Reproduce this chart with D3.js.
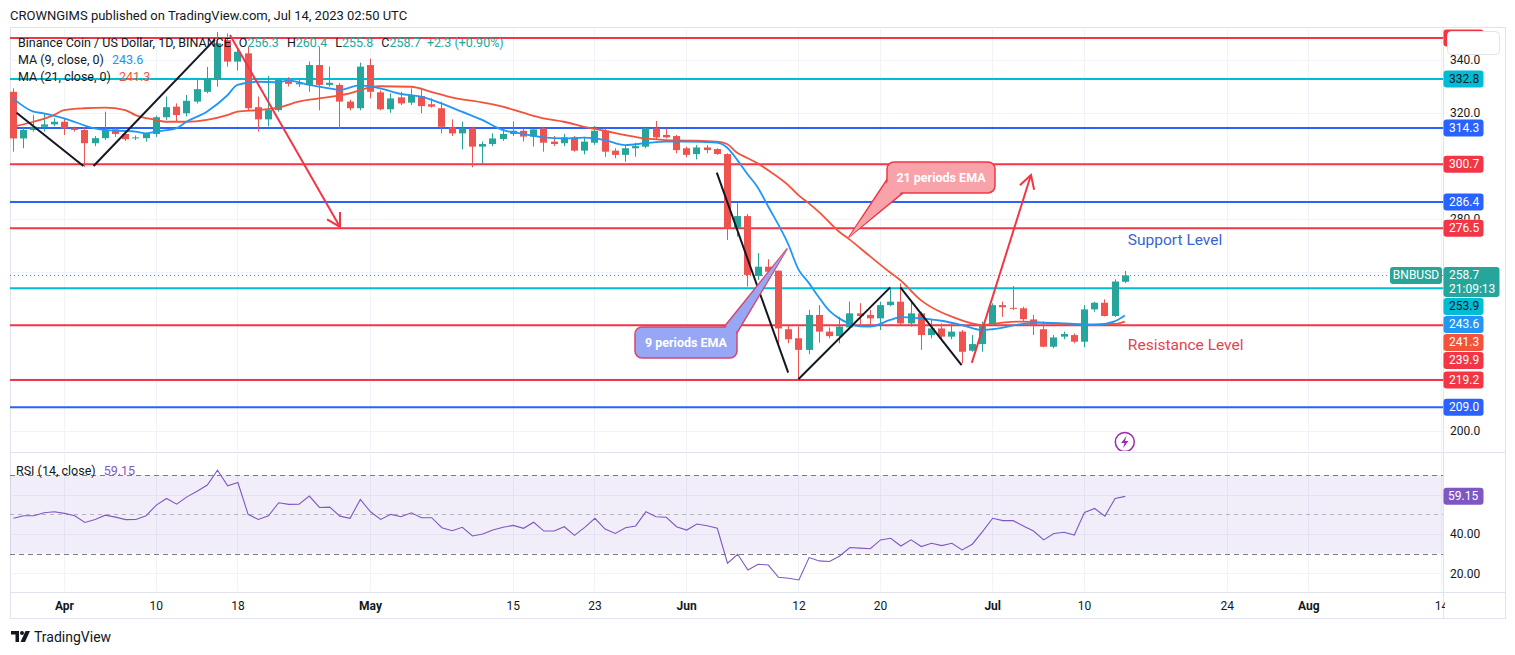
<!DOCTYPE html>
<html><head><meta charset="utf-8">
<script src="https://cdn.jsdelivr.net/npm/d3@7"></script>
<style>
html,body{margin:0;padding:0;background:#fff;}
svg{display:block;font-family:Roboto,"Liberation Sans",Arial,sans-serif;}
</style></head><body>
<svg id="c" width="1515" height="655"></svg>
<script>
// ---------------- DATA ----------------
const startDate = "2023-03-27"; // first daily candle
const opens = [328.0,310.4,313.6,314.8,315.7,316.7,314.2,313.6,308.6,310.5,313.8,312.1,310.5,310.5,312.1,318.4,322.4,319.9,324.3,328.0,
332.5,347.5,339.4,342.5,322.2,317.6,321.1,332.0,330.8,330.6,338.1,330.6,330.6,324.3,321.8,338.1,327.8,321.4,325.9,323.9,
326.4,323.3,321.8,314.6,312.3,314.2,307.3,308.3,310.2,312.1,313.3,311.1,314.2,309.2,308.6,310.8,305.8,308.8,313.3,305.8,
304.2,306.7,307.3,314.2,311.7,311.3,306.7,304.5,307.0,306.4,304.5,276.5,281.1,258.5,262.0,260.5,238.4,235.0,230.6,243.8,
237.5,235.8,239.1,244.4,243.8,242.5,247.5,248.8,240.6,244.4,236.2,238.7,235.6,237.5,230.3,232.8,240.0,247.5,246.5,246.3,
242.1,238.4,231.8,235.6,236.2,233.7,245.9,248.4,243.4,256.3];
const highs = [329.3,314.8,319.2,319.9,318.0,318.0,314.8,314.8,311.3,320.5,314.8,312.5,311.5,312.6,319.0,326.2,323.6,326.8,332.7,337.4,
350.5,350.0,344.0,345.0,326.2,334.0,333.0,333.5,333.1,339.4,345.0,337.5,331.3,325.0,339.0,340.5,328.5,327.4,328.0,329.3,
329.3,325.5,324.3,317.6,316.7,314.8,309.2,312.3,314.2,316.7,314.2,314.2,314.8,311.3,312.1,311.3,311.0,315.1,314.2,306.7,
307.9,308.8,314.8,317.0,314.2,311.7,307.3,307.9,307.9,306.7,304.8,285.9,281.9,267.1,264.8,260.5,239.6,239.4,245.7,247.5,
239.1,243.1,248.8,248.2,245.7,248.8,253.8,255.7,248.8,245.0,241.9,240.6,240.6,238.1,236.2,241.3,248.2,248.8,254.7,246.9,
243.8,241.3,236.2,237.5,236.8,247.5,248.8,249.7,257.2,260.4];
const lows = [305.4,306.7,313.0,313.0,315.0,311.7,313.0,299.7,307.5,309.8,311.0,309.5,309.8,309.2,311.0,317.4,316.7,318.7,323.6,327.4,
329.9,337.5,336.0,321.0,313.0,315.0,320.5,330.0,329.8,328.0,321.0,330.0,314.0,321.0,321.0,325.5,321.0,320.1,323.0,323.0,
319.9,322.0,312.3,311.3,306.3,299.5,300.8,307.5,309.5,311.3,309.2,307.3,305.4,307.5,307.5,305.4,304.4,308.0,303.5,302.9,
301.6,303.5,306.7,309.8,310.4,304.8,303.3,302.5,304.8,304.2,272.1,273.3,254.5,257.0,258.2,231.8,233.1,219.2,229.0,233.3,
235.0,233.1,238.4,239.4,239.4,238.1,247.0,240.0,239.4,230.6,235.0,234.3,234.6,225.5,229.9,229.9,239.6,243.1,245.6,241.3,
236.2,231.6,231.2,234.6,233.1,231.6,245.0,243.2,243.0,255.8];
const closes = [310.4,313.6,314.8,315.7,316.7,314.2,313.6,308.6,310.5,313.6,312.1,310.1,310.8,312.1,318.4,322.2,319.2,324.6,329.0,333.1,
346.3,339.4,343.1,321.8,317.6,321.1,332.5,331.0,331.3,338.1,330.6,331.4,324.3,321.8,337.5,328.0,321.4,325.5,323.6,326.8,
322.6,322.4,314.8,312.3,314.2,307.3,308.3,310.4,312.1,313.3,311.1,313.8,308.8,308.3,310.8,305.8,309.2,313.3,305.4,304.2,
306.7,307.5,314.2,310.8,310.8,306.0,304.2,307.0,306.0,304.5,276.5,281.1,258.9,262.0,260.1,238.7,234.6,230.6,243.8,237.5,
235.8,239.4,244.4,243.4,242.5,247.5,248.8,240.6,244.4,236.2,238.7,235.6,237.5,229.9,232.8,240.0,247.5,246.7,246.2,242.2,
240.0,231.8,235.3,236.6,233.7,245.9,248.4,243.4,256.4,258.7];
const rsiValues = [48.0,49.3,49.3,50.8,51.3,50.5,49.3,45.9,47.4,49.6,48.6,47.3,47.4,49.3,54.7,58.1,55.2,58.9,61.8,64.9,
72.5,64.5,66.2,50.0,47.4,49.3,55.9,55.1,55.2,59.3,53.5,53.7,49.1,48.0,57.6,51.3,47.4,50.0,48.8,50.8,
48.3,48.3,43.2,41.7,43.4,39.0,40.0,42.0,43.4,44.4,42.9,46.0,41.5,41.5,43.7,39.3,43.4,48.0,42.5,40.3,
43.2,44.1,51.3,48.8,48.5,43.7,42.0,45.1,44.2,42.9,25.1,29.7,21.7,24.6,24.2,18.0,17.5,16.6,28.0,26.3,
26.0,28.8,33.1,32.8,32.5,37.0,37.8,33.9,37.0,33.6,35.3,34.1,35.3,31.9,34.8,41.2,48.0,46.8,46.8,44.1,
41.5,37.0,40.3,40.9,39.5,51.0,53.0,49.1,58.1,59.15];
// Moving averages: [days after 2023-04-01, value]
const ma9Points = [[-5,325.5],[-3,320.5],[-2,319.9],[0,318],[3,314.2],[4,313.6],[7,313],[8,312.3],[9,313],[11,314.2],[12,316.7],[14,320.5],[16,326.6],[17,330.6],[19,331.8],[21,331.6],[22,332.3],[24,330.6],[26,329.3],[27,328.7],[29,330.4],[31,329.3],[33,327.2],[35,326.2],[37,323.6],[39,320.5],[41,317.4],[43,313.6],[45,312.1],[47,310.8],[49,310.4],[51,310.7],[53,309.8],[55,307.9],[57,308.6],[59,309.2],[61,309.2],[64,308.8],[65,307],[66,302.3],[67,297],[68,292],[69,285],[71,270.5],[72,261],[73,256],[74,250.5],[75,245.5],[76,242.5],[77,240.5],[78,239.5],[79,239.4],[81,241.9],[82,243],[84,242.5],[86,241.6],[88,240],[90,238.1],[91,238.4],[94,240.4],[96,240.9],[99,240.4],[101,240],[103,241.4],[104,243.6]];
const ma21Points = [[-5,314.8],[-3,316.7],[-1,319.2],[0,321.1],[2,321.8],[4,322],[6,321.1],[7,319.2],[9,317.4],[10,316.7],[12,316.7],[14,317.4],[16,319.2],[17,320.5],[19,321.1],[21,322],[23,324.3],[25,325.5],[28,327.4],[30,329.7],[31,330.1],[34,329.9],[36,328],[38,325.9],[41,324],[43,322.4],[45,320.1],[47,318],[49,316.7],[51,314.8],[53,313.3],[55,311.7],[57,310.4],[59,309.8],[61,309.6],[64,309.2],[65,308.3],[66,305],[67,303],[68,301],[69,298.5],[71,292.8],[72,289],[73,286],[74,282.7],[76,275.2],[77,272.3],[79,266],[81,259.8],[82,256.9],[84,249.4],[86,244.8],[87,243.2],[89,240.6],[90,240],[92,240.9],[94,241.3],[97,240.6],[100,240.2],[103,240.4],[104,241.3]];
const levelValues = [348.3,332.8,314.3,300.7,286.4,276.5,253.9,239.9,219.2,209.0];
const levelKinds  = ["red","cyan","blue","red","blue","red","cyan","red","red","blue"];
const priceTicks = [200,220,240,260,280,300,320,340];
const rsiTicks = [20,40,60];
const timeTickDates = ["2023-04-01","2023-04-10","2023-04-18","2023-05-01","2023-05-15","2023-05-23","2023-06-01","2023-06-12","2023-06-20","2023-07-01","2023-07-10","2023-07-24","2023-08-01","2023-08-14"];
const timeTickLabels = ["Apr","10","18","May","15","23","Jun","12","20","Jul","10","24","Aug","14"];
const lastPrice = 258.7, lastRsi = 59.15, countdown = "21:09:13";
// drawings in [days after 2023-04-01, price]
const blackLines = [[[-4.65,320.1],[1.9,300.0]],[[2.9,300.0],[14.8,347.8]],[[64,297.5],[71,222.0]],[[72,219.5],[81,254.2]],[[82,254.2],[88,224.9]]];
const redArrows = [[[16.27,349.4],[27.06,277.0]],[[89.0,225.7],[94.8,296.6]]];
const callouts = [
  {text:"21 periods EMA", center:[85.98,295.7], tip:[76.96,273.2], kind:"red"},
  {text:"9 periods EMA",  center:[60.98,233.4], tip:[70.88,268.7], kind:"blue"}
];
const textNotes = [{text:"Support Level", at:[104.3,272.1], kind:"blue"},{text:"Resistance Level", at:[104.3,232.5], kind:"red"}];

// ---------------- SETUP ----------------
const svg = d3.select("#c");
const base = Date.UTC(2023,3,1);
const day = n => new Date(base + n*864e5);
const dates = d3.range(opens.length).map(i => d3.utcDay.offset(new Date(startDate+"T00:00:00Z"), i));
const PX_DAY = 10.2;
const x = d3.scaleUtc().domain([day(0), day(122)]).range([64, 64 + 122*PX_DAY]);
const y = d3.scaleLinear().domain([200,340]).range([431,60]);
const yr = d3.scaleLinear().domain([20,40]).range([573.3,534]);

const C = {up:"#26a69a", down:"#ef5350", red:"#f23645", blue:"#2962ff", cyan:"#00bcd4",
  ma9:"#2196f3", ma21:"#f2533a", grid:"#f0f3fa", border:"#e0e3eb", text:"#131722", rsi:"#7e57c2"};
const kindColor = {red:C.red, blue:C.blue, cyan:C.cyan};

const L = 10, R = 1443, RR = 1505, PT = 29, PB = 451, RT = 453, RB = 591, AB = 618;

const defs = svg.append("defs");
defs.append("clipPath").attr("id","pp").append("rect").attr("x",L).attr("y",PT).attr("width",R-L).attr("height",PB-PT);
defs.append("clipPath").attr("id","rp").append("rect").attr("x",L).attr("y",RT).attr("width",R-L).attr("height",RB-RT);
defs.append("clipPath").attr("id","tp").append("rect").attr("x",L).attr("y",AB-30).attr("width",R-L+2).attr("height",30);

// header
svg.append("text").attr("x",10).attr("y",19.5).attr("font-size",13).attr("fill",C.text)
  .text("CROWNGIMS published on TradingView.com, Jul 14, 2023 02:50 UTC");

// frame
svg.append("rect").attr("x",L+0.5).attr("y",27.5).attr("width",RR-L).attr("height",AB-27).attr("fill","none").attr("stroke",C.border);
svg.append("line").attr("x1",L).attr("x2",RR).attr("y1",452.5).attr("y2",452.5).attr("stroke",C.border);
svg.append("line").attr("x1",L).attr("x2",RR).attr("y1",592.5).attr("y2",592.5).attr("stroke",C.border);
svg.append("line").attr("x1",R+0.5).attr("x2",R+0.5).attr("y1",27).attr("y2",AB).attr("stroke",C.border);

// ---------------- PRICE PANE ----------------
const pp = svg.append("g").attr("clip-path","url(#pp)");
const tickD = timeTickDates.map(s => new Date(s+"T00:00:00Z"));
pp.selectAll(".vg").data(tickD).join("line").attr("x1",d=>Math.round(x(d))+0.5).attr("x2",d=>Math.round(x(d))+0.5)
  .attr("y1",PT).attr("y2",PB).attr("stroke",C.grid);
pp.selectAll(".hg").data(priceTicks).join("line").attr("x1",L).attr("x2",R).attr("y1",d=>Math.round(y(d))+0.5).attr("y2",d=>Math.round(y(d))+0.5).attr("stroke",C.grid);

// level lines
pp.selectAll(".lvl").data(levelValues).join("line").attr("x1",L).attr("x2",R)
  .attr("y1",d=>y(d)).attr("y2",d=>y(d)).attr("stroke",(d,i)=>kindColor[levelKinds[i]]).attr("stroke-width",2);

// last price dotted line
pp.append("line").attr("x1",L).attr("x2",R).attr("y1",y(lastPrice)).attr("y2",y(lastPrice))
  .attr("stroke",C.up).attr("stroke-dasharray","1,3");

// candles
const cg = pp.append("g");
dates.forEach((dt,i)=>{
  const o=opens[i], c=closes[i], col = c>=o?C.up:C.down, cx=Math.round(x(dt));
  cg.append("line").attr("x1",cx+0.5).attr("x2",cx+0.5).attr("y1",y(highs[i])).attr("y2",y(lows[i])).attr("stroke",col);
  const top=y(Math.max(o,c)), h=Math.max(1,Math.abs(y(o)-y(c)));
  cg.append("rect").attr("x",cx-3).attr("width",7).attr("y",top).attr("height",h).attr("fill",col);
});

// MA lines
const maLine = d3.line().x(d=>x(day(d[0]))).y(d=>y(d[1])).curve(d3.curveMonotoneX);
pp.append("path").attr("d",maLine(ma21Points)).attr("fill","none").attr("stroke",C.ma21).attr("stroke-width",1.8);
pp.append("path").attr("d",maLine(ma9Points)).attr("fill","none").attr("stroke",C.ma9).attr("stroke-width",1.8);

// drawings
const P = p => [x(day(p[0])), y(p[1])];
blackLines.forEach(s=>{
  const a=P(s[0]), b=P(s[1]);
  pp.append("line").attr("x1",a[0]).attr("y1",a[1]).attr("x2",b[0]).attr("y2",b[1]).attr("stroke","#131722").attr("stroke-width",2);
});
redArrows.forEach(s=>{
  const a=P(s[0]), b=P(s[1]);
  pp.append("line").attr("x1",a[0]).attr("y1",a[1]).attr("x2",b[0]).attr("y2",b[1]).attr("stroke",C.red).attr("stroke-width",2);
  const ang=Math.atan2(a[1]-b[1],a[0]-b[0]), len=15, sp=0.52;
  const w1=[b[0]+len*Math.cos(ang+sp), b[1]+len*Math.sin(ang+sp)], w2=[b[0]+len*Math.cos(ang-sp), b[1]+len*Math.sin(ang-sp)];
  pp.append("path").attr("d",`M${w1}L${b}L${w2}`).attr("fill","none").attr("stroke",C.red).attr("stroke-width",2).attr("stroke-linejoin","miter");
});

// callouts
const calloutStyle = {red:{fill:"#f8a3aa",stroke:"#f23645"}, blue:{fill:"#97a6f5",stroke:"#d9456a"}};
callouts.forEach(co=>{
  const st=calloutStyle[co.kind], c=P(co.center), t=P(co.tip), w=co.kind==="red"?108:102, h=31;
  let b1,b2;
  if (co.kind==="red"){ b1=[c[0]-w/2, c[1]+2]; b2=[c[0]-w/2+16, c[1]+h/2]; }
  else { b1=[c[0]+w/2-13, c[1]-h/2]; b2=[c[0]+w/2, c[1]-h/2+6]; }
  const g=pp.append("g");
  g.append("path").attr("d",`M${b1}L${t}L${b2}Z`).attr("fill",st.fill).attr("stroke",st.stroke).attr("stroke-width",1.5).attr("stroke-linejoin","round");
  g.append("rect").attr("x",c[0]-w/2).attr("y",c[1]-h/2).attr("width",w).attr("height",h).attr("rx",7)
    .attr("fill",st.fill).attr("stroke",st.stroke).attr("stroke-width",1.5);
  const inset = co.kind==="red" ? [[b1[0]+1.5,b1[1]+1],[b2[0]-1,b2[1]-1.5],[c[0]-w/2+10,c[1]+4]] : [[b1[0]+1,b1[1]+1.5],[b2[0]-1.5,b2[1]],[c[0]+w/2-6,c[1]-h/2+8]];
  g.append("path").attr("d",`M${inset[0]}L${t}L${inset[1]}L${inset[2]}Z`).attr("fill",st.fill);
  g.append("text").attr("x",c[0]).attr("y",c[1]+4.5).attr("text-anchor","middle").attr("font-size",12.5).attr("font-weight",700)
    .attr("fill","#fff").text(co.text);
});

// text notes
textNotes.forEach(n=>{
  const p=P(n.at);
  pp.append("text").attr("x",p[0]).attr("y",p[1]+5.5).attr("font-size",15.5).attr("fill",n.kind==="blue"?"#3b63d6":"#e3434f").text(n.text);
});

// lightning marker
(()=>{
  const cx = x(dates[dates.length-1]), cy = 442;
  const g = pp.append("g").attr("transform",`translate(${cx},${cy})`);
  g.append("circle").attr("r",9.5).attr("fill","#fff").attr("stroke","#9c27b0").attr("stroke-width",1.5);
  g.append("path").attr("d","M1.8,-6.2L-3.6,1L-0.2,1L-1.8,6.2L3.6,-1L0.2,-1Z").attr("fill","#9c27b0");
})();

// legend
const lg = svg.append("g").attr("font-size",12.5).attr("fill",C.text);
const l1 = lg.append("text").attr("x",18).attr("y",46.5);
l1.append("tspan").text("Binance Coin / US Dollar, 1D, BINANCE");
[["O","256.3"],["H","260.4"],["L","255.8"],["C","258.7"]].forEach((p,i)=>{
  l1.append("tspan").attr("dx", 8).text(p[0]);
  l1.append("tspan").attr("fill",C.up).text(p[1]);
});
l1.append("tspan").attr("dx",6).attr("fill",C.up).text("+2.3 (+0.90%)");
const l2 = lg.append("text").attr("x",18).attr("y",63.5);
l2.append("tspan").text("MA (9, close, 0)");
l2.append("tspan").attr("dx",8).attr("fill",C.ma9).text(ma9Points[ma9Points.length-1][1].toFixed(1));
const l3 = lg.append("text").attr("x",18).attr("y",80.5);
l3.append("tspan").text("MA (21, close, 0)");
l3.append("tspan").attr("dx",8).attr("fill",C.ma21).text(ma21Points[ma21Points.length-1][1].toFixed(1));

// ---------------- RSI PANE ----------------
const rp = svg.append("g").attr("clip-path","url(#rp)");
rp.selectAll(".vg").data(tickD).join("line").attr("x1",d=>Math.round(x(d))+0.5).attr("x2",d=>Math.round(x(d))+0.5)
  .attr("y1",RT).attr("y2",RB).attr("stroke",C.grid);
rp.selectAll(".hg").data(rsiTicks).join("line").attr("x1",L).attr("x2",R).attr("y1",d=>Math.round(yr(d))+0.5).attr("y2",d=>Math.round(yr(d))+0.5).attr("stroke",C.grid);
rp.append("rect").attr("x",L).attr("width",R-L).attr("y",yr(70)).attr("height",yr(30)-yr(70)).attr("fill","rgba(126,87,194,0.1)");
[[70,"#787b86","5,4"],[50,"#b2b5be","4,4"],[30,"#787b86","5,4"]].forEach(b=>{
  rp.append("line").attr("x1",L).attr("x2",R).attr("y1",Math.round(yr(b[0]))+0.5).attr("y2",Math.round(yr(b[0]))+0.5)
    .attr("stroke",b[1]).attr("stroke-dasharray",b[2]);
});
const rsiLine = d3.line().x((d,i)=>x(dates[i])+0.5).y(d=>yr(d));
rp.append("path").attr("d",rsiLine(rsiValues)).attr("fill","none").attr("stroke",C.rsi).attr("stroke-width",1.1);
const rl = svg.append("text").attr("x",16).attr("y",475).attr("font-size",12.5).attr("fill",C.text);
rl.append("tspan").text("RSI (14, close)");
rl.append("tspan").attr("dx",8).attr("fill",C.rsi).text(lastRsi.toFixed(2));

// ---------------- PRICE LABELS (stacked) ----------------
const labelBg = {red:C.red, blue:C.blue, cyan:C.cyan};
const labels = levelValues.map((v,i)=>({v, bg:labelBg[levelKinds[i]], fg: levelKinds[i]==="cyan"?C.text:"#fff", h:17}));
labels.push({v:ma9Points[ma9Points.length-1][1], bg:C.ma9, fg:"#fff", h:17});
labels.push({v:ma21Points[ma21Points.length-1][1], bg:C.ma21, fg:"#fff", h:17});
labels.push({v:lastPrice, bg:C.up, fg:"#fff", h:30, w:56, extra:countdown});
labels.forEach(l=>{ l.top = y(l.v) - 8.5; });
labels.sort((a,b)=>a.top-b.top);
let prevBottom = -1e9;
labels.forEach(l=>{ if (l.top < prevBottom + 1) l.top = prevBottom + 1; prevBottom = l.top + l.h; });

// ---------------- AXES ----------------
// price axis ticks: hide the ones a label box sits on; trim the one a box partly covers
const covered = t => labels.some(l => y(t) >= l.top && y(t) <= l.top + l.h);
const visTicks = priceTicks.filter(t => !covered(t));
const pax = svg.append("g").attr("transform",`translate(${R},0)`)
  .call(d3.axisRight(y).tickValues(visTicks).tickFormat(d3.format(".1f")).tickSize(0).tickPadding(7));
pax.select(".domain").remove();
pax.selectAll("text").attr("font-size",12).attr("fill",C.text).attr("font-family","Roboto,'Liberation Sans',sans-serif");
pax.selectAll(".tick").each(function(t){
  const below = labels.filter(l => l.top > y(t) && l.top < y(t) + 5).map(l=>l.top);
  if (below.length){
    const id = "tc"+t;
    defs.append("clipPath").attr("id",id).append("rect").attr("x",0).attr("y",0).attr("width",62).attr("height",Math.min(...below));
    d3.select(this).attr("transform",null).attr("clip-path",`url(#${id})`);
    d3.select(this).select("text").attr("transform",`translate(0,${y(t)})`);
  }
});

// rsi axis ticks
const rax = svg.append("g").attr("transform",`translate(${R},0)`)
  .call(d3.axisRight(yr).tickValues([20,40]).tickFormat(d3.format(".2f")).tickSize(0).tickPadding(7));
rax.select(".domain").remove();
rax.selectAll("text").attr("font-size",12).attr("fill",C.text).attr("font-family","Roboto,'Liberation Sans',sans-serif");

// time axis
const tax = svg.append("g").attr("clip-path","url(#tp)").append("g").attr("transform",`translate(0,${RB+1})`)
  .call(d3.axisBottom(x).tickValues(tickD).tickFormat((d,i)=>timeTickLabels[i]).tickSize(0).tickPadding(9));
tax.select(".domain").remove();
tax.selectAll("text").attr("font-size",12).attr("fill",C.text).attr("font-family","Roboto,'Liberation Sans',sans-serif")
  .attr("font-weight",(d,i)=>/^[A-Z]/.test(timeTickLabels[i])?700:400);

// label boxes
const lbg = svg.append("g");
labels.forEach(l=>{
  const w = l.w || 40;
  lbg.append("rect").attr("x",R+0.5).attr("y",l.top).attr("width",w).attr("height",l.h).attr("rx",3).attr("fill",l.bg);
  lbg.append("text").attr("x",R+6).attr("y",l.top+12.5).attr("font-size",12).attr("fill",l.fg).text(l.v.toFixed(1));
  if (l.extra) lbg.append("text").attr("x",R+6).attr("y",l.top+26).attr("font-size",12).attr("fill",l.fg).text(l.extra);
});
// symbol label
(()=>{
  const t = y(lastPrice) - 8.5;
  svg.append("rect").attr("x",1390).attr("y",t).attr("width",52).attr("height",17).attr("rx",3).attr("fill",C.up);
  svg.append("text").attr("x",1416).attr("y",t+12.5).attr("text-anchor","middle").attr("font-size",12).attr("fill","#fff").text("BNBUSD");
})();
// rsi value label
svg.append("rect").attr("x",R+0.5).attr("y",yr(lastRsi)-8.5).attr("width",40).attr("height",17).attr("rx",3).attr("fill",C.rsi);
svg.append("text").attr("x",R+5).attr("y",yr(lastRsi)+4).attr("font-size",12).attr("fill","#fff").text(lastRsi.toFixed(2));

// top-right button
svg.append("rect").attr("x",1447.5).attr("y",31.5).attr("width",52).attr("height",23).attr("rx",4).attr("fill","#fff").attr("stroke",C.border);

// TradingView logo
(()=>{
  const g = svg.append("g").attr("transform","translate(11,631)");
  g.append("path").attr("d","M0,0H8V11H4.5V3.5H0Z").attr("fill",C.text);
  g.append("circle").attr("cx",11).attr("cy",2).attr("r",2).attr("fill",C.text);
  g.append("path").attr("d","M14.5,0H19L14,11H9.5Z").attr("fill",C.text);
  svg.append("text").attr("x",34).attr("y",642).attr("font-size",14).attr("fill",C.text).text("TradingView");
})();
</script>
</body></html>
